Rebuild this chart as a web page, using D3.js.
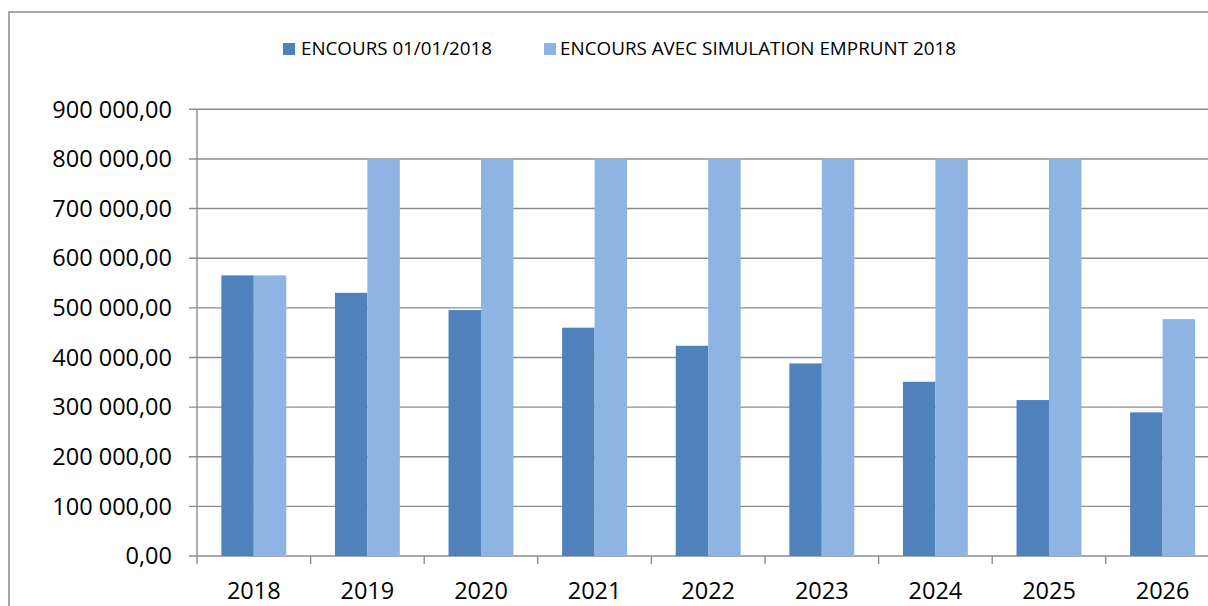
<!DOCTYPE html>
<html>
<head>
<meta charset="utf-8">
<script src="https://cdn.jsdelivr.net/npm/d3@7"></script>
<style>
  body { margin: 0; background: #fff; }
  svg text { font-family: "Open Sans", sans-serif; fill: #000; }
</style>
</head>
<body>
<svg id="chart" width="1208" height="606"></svg>
<script>
var years = ["2018", "2019", "2020", "2021", "2022", "2023", "2024", "2025", "2026"];
var seriesNames = ["ENCOURS 01/01/2018", "ENCOURS AVEC SIMULATION EMPRUNT 2018"];
var encours = [565400, 530300, 495500, 460000, 423600, 388000, 351000, 314200, 289400];
var simulation = [565400, 800000, 800000, 800000, 800000, 800000, 800000, 800000, 477300];
var yTicks = [0, 100000, 200000, 300000, 400000, 500000, 600000, 700000, 800000, 900000];
var colors = ["#4F81BD", "#8EB4E3"];

var svg = d3.select("svg#chart"),
	width = +svg.attr("width"),
	height = +svg.attr("height");

var gridColor = "#8c8c8c";

// outer chart frame (cut by the picture on the right and bottom)
svg.append("rect")
	.attr("x", 9).attr("y", 12)
	.attr("width", 1300).attr("height", 700)
	.attr("fill", "none")
	.attr("stroke", gridColor)
	.attr("stroke-width", 1.5);

var x0 = d3.scaleBand().domain(years).range([197, 197 + 9 * 113.6]);
var x1 = d3.scaleBand().domain([0, 1]).range([0, x0.bandwidth()]).paddingOuter(0.75);
var y = d3.scaleLinear().domain([0, 900000]).range([556, 109.3]);

var fmt = function(v) {
	var s = d3.format(",.2f")(v);
	return s.replace(/,/g, " ").replace(".", ",");
};

// gridlines + left tick marks
var grid = svg.append("g").attr("class", "grid");
grid.selectAll("line")
	.data(yTicks)
	.enter().append("line")
	  .attr("x1", 189).attr("x2", width + 20)
	  .attr("y1", function(d) { return y(d); })
	  .attr("y2", function(d) { return y(d); })
	  .attr("stroke", gridColor)
	  .attr("stroke-width", 1.4);

grid.selectAll("text")
	.data(yTicks)
	.enter().append("text")
	  .attr("x", 172)
	  .attr("y", function(d) { return y(d); })
	  .attr("dy", "0.35em")
	  .attr("text-anchor", "end")
	  .style("font-size", "23.5px")
	  .text(fmt);

// bars
var data = years.map(function(yr, i) { return { year: yr, values: [encours[i], simulation[i]] }; });

svg.append("g")
	.selectAll("g")
	.data(data)
	.enter().append("g")
	  .attr("transform", function(d) { return "translate(" + x0(d.year) + ",0)"; })
	.selectAll("rect")
	.data(function(d) { return d.values.map(function(v, k) { return { k: k, v: v }; }); })
	.enter().append("rect")
	  .attr("x", function(d) { return x1(d.k); })
	  .attr("width", x1.bandwidth())
	  .attr("y", function(d) { return y(d.v); })
	  .attr("height", function(d) { return y(0) - y(d.v); })
	  .attr("fill", function(d) { return colors[d.k]; });

// axes lines
svg.append("line")
	.attr("x1", 197).attr("x2", 197)
	.attr("y1", y(900000)).attr("y2", 564)
	.attr("stroke", gridColor).attr("stroke-width", 1.4);

svg.append("g").selectAll("line")
	.data(years)
	.enter().append("line")
	  .attr("x1", function(d) { return x0(d) + x0.bandwidth(); })
	  .attr("x2", function(d) { return x0(d) + x0.bandwidth(); })
	  .attr("y1", 556).attr("y2", 564)
	  .attr("stroke", gridColor).attr("stroke-width", 1.4);

svg.append("g").selectAll("text")
	.data(years)
	.enter().append("text")
	  .attr("x", function(d) { return x0(d) + x0.bandwidth() / 2; })
	  .attr("y", 599)
	  .attr("text-anchor", "middle")
	  .style("font-size", "23.5px")
	  .text(function(d) { return d; });

// legend
var legendPos = [{ sx: 283, tx: 301, tw: 191 }, { sx: 544, tx: 560, tw: 396 }];
var legend = svg.append("g").attr("class", "legend")
	.selectAll("g")
	.data(seriesNames)
	.enter().append("g");

legend.append("rect")
	.attr("x", function(d, i) { return legendPos[i].sx; })
	.attr("y", 43)
	.attr("width", 12).attr("height", 12)
	.attr("fill", function(d, i) { return colors[i]; });

legend.append("text")
	.attr("x", function(d, i) { return legendPos[i].tx; })
	.attr("y", 55)
	.attr("textLength", function(d, i) { return legendPos[i].tw; })
	.attr("lengthAdjust", "spacingAndGlyphs")
	.style("font-size", "18.5px")
	.text(function(d) { return d; });
</script>
</body>
</html>
